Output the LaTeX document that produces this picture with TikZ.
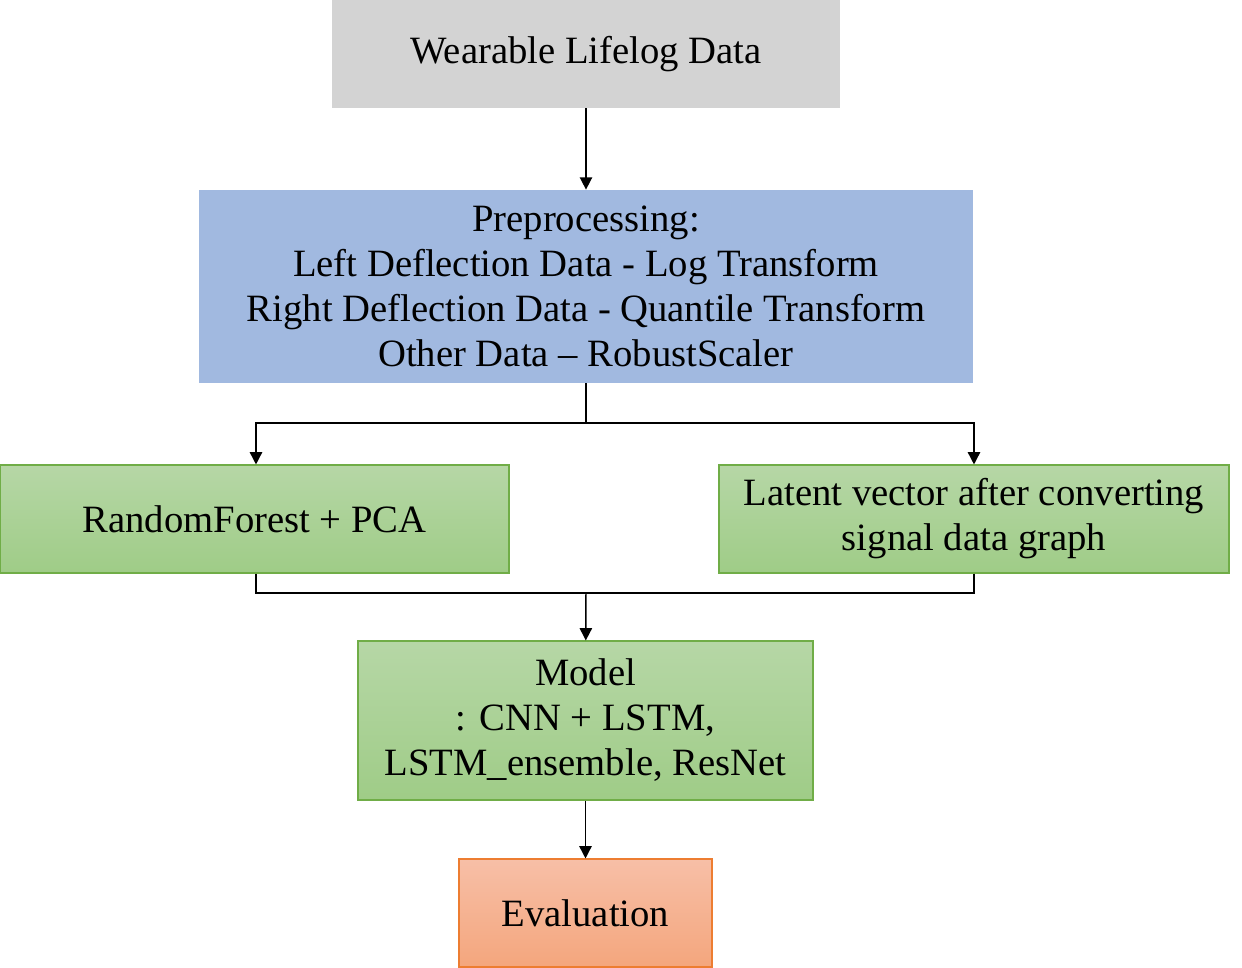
\documentclass[tikz,border=0pt]{standalone}
\usepackage{fontspec}
\setmainfont{Liberation Serif}
\usetikzlibrary{arrows.meta}
\definecolor{boxgray}{RGB}{211,211,211}
\definecolor{boxblue}{RGB}{161,185,224}
\definecolor{greentop}{RGB}{182,215,166}
\definecolor{greenbot}{RGB}{159,204,135}
\definecolor{greenline}{RGB}{112,173,71}
\definecolor{orangetop}{RGB}{247,191,167}
\definecolor{orangebot}{RGB}{244,166,125}
\definecolor{orangeline}{RGB}{237,125,49}
\begin{document}
\begin{tikzpicture}[
	box/.style={rectangle, inner sep=0pt, align=center, font=\fontsize{22}{25.6}\selectfont},
	greenbox/.style={box, draw=greenline, line width=0.6pt, top color=greentop, bottom color=greenbot},
	flow/.style={line width=0.85pt, -{Triangle[width=7pt,length=7pt]}},
	link/.style={line width=0.85pt}]% flow chart
	\useasboundingbox (0,0) rectangle (24.84,19.36);
	\node[box, fill=boxgray, minimum width=10.16cm, minimum height=2.16cm] (data) at (11.72,18.28) {Wearable Lifelog Data};
	\node[box, fill=boxblue, minimum width=15.48cm, minimum height=3.86cm] (prep) at (11.72,13.63) {Preprocessing:\\Left Deflection Data - Log Transform\\Right Deflection Data - Quantile Transform\\Other Data -- RobustScaler};
	\node[greenbox, minimum width=10.18cm, minimum height=2.16cm] (rf) at (5.09,8.98) {RandomForest + PCA};
	\node[greenbox, minimum width=10.2cm, minimum height=2.16cm] (latent) at (19.48,8.98) {Latent vector after converting\\signal data graph};
	\node[greenbox, minimum width=9.1cm, minimum height=3.18cm] (model) at (11.71,4.95) {Model\\: CNN + LSTM,\\LSTM\_ensemble, ResNet};
	\node[box, draw=orangeline, line width=0.6pt, top color=orangetop, bottom color=orangebot, minimum width=5.06cm, minimum height=2.16cm] (eval) at (11.71,1.10) {Evaluation};
	
	\coordinate (split) at (11.72,10.9);
	\coordinate (merge) at (11.72,7.5);
	\draw[flow] (data) -- (prep);
	\draw[link] (prep.south) -- (split);
	\draw[flow] (split) -| ([xshift=0.03cm]rf.north);
	\draw[flow] (split) -| (latent.north);
	\draw[link] ([xshift=0.03cm]rf.south) |- (merge);
	\draw[link] (latent.south) |- (merge);
	\draw[flow] (merge) -- (model);
	\draw[flow] (model) -- (eval);
\end{tikzpicture}
\end{document}
